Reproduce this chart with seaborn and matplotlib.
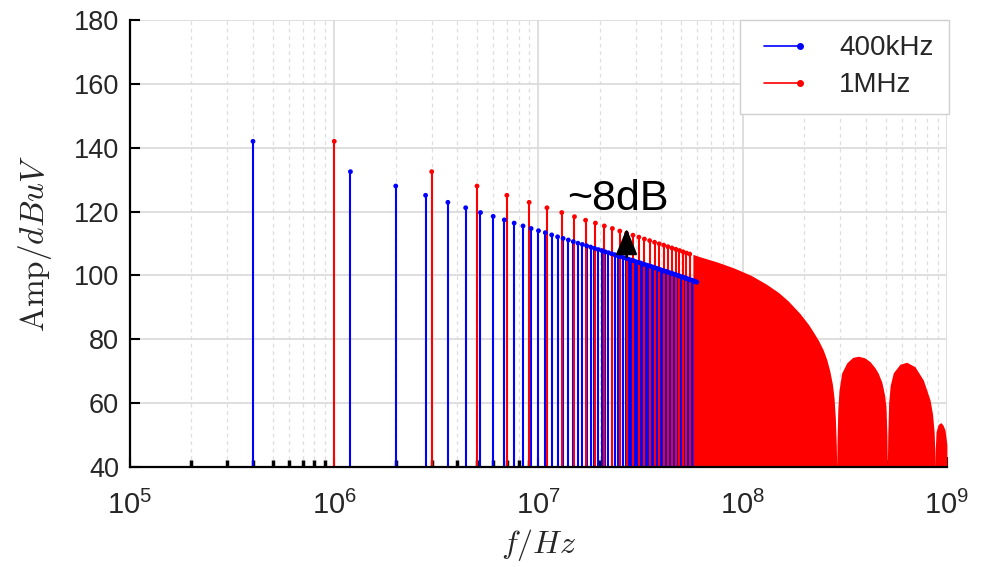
import numpy as np
import matplotlib
matplotlib.use("Agg")
import matplotlib.pyplot as plt
import seaborn as sns
from matplotlib.lines import Line2D
from matplotlib.legend_handler import HandlerLine2D
from matplotlib.ticker import FixedLocator

# ---------------- data ----------------
series_labels = ["400kHz", "1MHz"]
fund_hz = [400e3, 1e6]

# odd harmonic orders of the 400 kHz spectrum that are drawn as individual stems
blue_orders = list(range(1, 150, 2))
blue_amp = [142.0, 132.5, 128.0, 125.1, 122.9, 121.2, 119.7, 118.5, 117.4, 116.4,
            115.5, 114.7, 114.0, 113.4, 112.7, 112.1, 111.6, 111.1, 110.6, 110.1,
            109.7, 109.3, 108.9, 108.5, 108.1, 107.8, 107.4, 107.1, 106.8, 106.5,
            106.2, 105.9, 105.6, 105.4, 105.1, 104.8, 104.6, 104.3, 104.1, 103.9,
            103.6, 103.4, 103.2, 103.0, 102.8, 102.6, 102.4, 102.2, 102.0, 101.8,
            101.6, 101.4, 101.3, 101.1, 100.9, 100.7, 100.6, 100.4, 100.3, 100.1,
            99.9, 99.8, 99.6, 99.5, 99.3, 99.2, 99.0, 98.9, 98.7, 98.6,
            98.5, 98.3, 98.2, 98.0, 97.9]

# odd harmonic orders of the 1 MHz spectrum drawn as individual stems
red_orders = list(range(1, 56, 2))
red_amp = [142.0, 132.5, 128.0, 125.1, 122.9, 121.2, 119.7, 118.4, 117.3, 116.4,
           115.5, 114.7, 113.9, 113.2, 112.6, 112.0, 111.4, 110.9, 110.4, 109.9,
           109.5, 109.0, 108.6, 108.2, 107.8, 107.4, 107.0, 106.7]

# envelope of the dense (merged) 1 MHz stems, 57 MHz .. 1 GHz
red_env_mhz = [57, 62, 75, 90, 110, 131, 150, 167, 191, 210, 222, 235, 248, 258,
               267, 275, 280, 284, 287, 288.5,
               289.5, 292, 296, 305, 323, 345, 368, 395, 420, 445, 461, 480, 495,
               503, 508, 510.5,
               513, 518, 527, 546, 589, 635, 697, 766, 826, 850, 865, 872, 874,
               877, 884, 905, 932, 955, 978, 999]
red_env_amp = [106.6, 105.8, 104.2, 102.4, 100.0, 97.2, 94.6, 92.0, 88.0, 84.6,
               82.2, 79.6, 76.6, 73.6, 70.0, 65.8, 61.5, 55.5, 47.0, 40.0,
               48.0, 58.0, 64.0, 69.4, 72.6, 74.3, 74.7, 74.2, 73.0, 71.0,
               69.3, 66.5, 62.5, 58.5, 50.0, 40.0,
               50.0, 60.0, 65.5, 69.5, 72.2, 72.8, 71.4, 67.2, 61.0, 56.5,
               51.0, 45.0, 40.0,
               46.0, 51.0, 53.3, 53.9, 53.2, 51.6, 47.0]

x_ticks = [1e5, 1e6, 1e7, 1e8, 1e9]
x_ticklabels = [r"$\mathregular{10^{5}}$", r"$\mathregular{10^{6}}$",
                r"$\mathregular{10^{7}}$", r"$\mathregular{10^{8}}$",
                r"$\mathregular{10^{9}}$"]
y_ticks = [40, 60, 80, 100, 120, 140, 160, 180]

annot_text = "~8dB"
annot_f = 27e6
annot_lo, annot_hi = 105.8, 114.7

# ---------------- style ----------------
sns.set_theme(style="white")
plt.rcParams["font.family"] = ["Liberation Sans", "DejaVu Sans"]
plt.rcParams["mathtext.fontset"] = "cm"

BLUE = "#0000ff"
RED = "#ff0000"

fig = plt.figure(figsize=(9.94, 5.67), dpi=100)
ax = fig.add_axes([0.1308, 0.1764, 0.8219, 0.7883])

blue_f = np.array(blue_orders) * fund_hz[0]
red_f = np.array(red_orders) * fund_hz[1]
env_f = np.array(red_env_mhz) * 1e6

# stems
ax.vlines(blue_f, 40, blue_amp, color=BLUE, lw=1.5, zorder=2)
sns.scatterplot(x=blue_f, y=blue_amp, color=BLUE, s=12, marker="o",
                edgecolor="none", ax=ax, zorder=4, legend=False)
ax.vlines(red_f, 40, red_amp, color=RED, lw=1.5, zorder=3)
sns.scatterplot(x=red_f, y=red_amp, color=RED, s=12, marker="o",
                edgecolor="none", ax=ax, zorder=4, legend=False)
ax.fill_between(env_f, 40, red_env_amp, color=RED, lw=0, zorder=3)

ax.set_xscale("log")
ax.set_xlim(1e5, 1e9)
ax.set_ylim(40, 180)

# grid
ax.set_xticks(x_ticks, labels=x_ticklabels)
minor = [m * d for d in [1e5, 1e6, 1e7, 1e8] for m in range(2, 10)]
ax.xaxis.set_minor_locator(FixedLocator(minor))
ax.set_yticks(y_ticks)
ax.grid(True, which="major", color="#d9d9d9", lw=1.2, zorder=0)
ax.grid(True, which="minor", axis="x", color="#dedede", lw=0.9,
        linestyle=(0, (3, 3)), zorder=0)
ax.set_axisbelow(True)

for side in ["top", "right"]:
    ax.spines[side].set_visible(False)
for side in ["left", "bottom"]:
    ax.spines[side].set_color("black")
    ax.spines[side].set_linewidth(1.6)
    ax.spines[side].set_zorder(6)

ax.tick_params(axis="both", which="major", direction="in", length=7, width=1.5,
               color="black", labelcolor="#262626", labelsize=19.5,
               top=False, right=False, bottom=True, left=True)
ax.tick_params(axis="x", which="minor", direction="in", length=5, width=2.5,
               color="black", top=False, bottom=True)
ax.tick_params(axis="x", which="major", pad=17, labelsize=21)
ax.tick_params(axis="y", which="major", pad=8)

ax.set_ylabel(r"$\mathrm{Amp}/dBuV$", fontsize=24, color="#262626", labelpad=14)
ax.set_xlabel(r"$f/Hz$", fontsize=23, color="#262626", labelpad=5)

# annotation
ax.text(24.5e6, 120.4, annot_text, fontsize=31, color="black",
        ha="center", va="baseline", zorder=8)
ax.annotate("", xy=(annot_f, annot_hi), xytext=(annot_f, annot_lo),
            arrowprops=dict(arrowstyle="-|>,head_length=0.8,head_width=0.33",
                            color="black", lw=1.8, mutation_scale=20,
                            shrinkA=0, shrinkB=0),
            zorder=8)


class RightMarkerHandler(HandlerLine2D):
    def create_artists(self, legend, orig_handle, xdescent, ydescent, width,
                       height, fontsize, trans):
        arts = super().create_artists(legend, orig_handle, xdescent, ydescent,
                                      width, height, fontsize, trans)
        for a in arts:
            if isinstance(a, Line2D):
                n = len(a.get_xdata())
                a.set_markevery([n - 1])
        return arts


handles = [Line2D([], [], color=BLUE, lw=1.2, marker="o", ms=4),
           Line2D([], [], color=RED, lw=1.2, marker="o", ms=4)]
leg = ax.legend(handles, series_labels, loc="upper right",
                bbox_to_anchor=(1.002, 1.0), borderaxespad=0, fontsize=20,
                frameon=True, fancybox=False, framealpha=1, edgecolor="#d0d0d0",
                handlelength=1.9, handletextpad=1.1, labelspacing=0.4,
                borderpad=0.55, numpoints=2,
                handler_map={Line2D: RightMarkerHandler(numpoints=2)})
leg.get_frame().set_linewidth(1.0)
for t in leg.get_texts():
    t.set_color("#262626")
leg.set_zorder(9)

fig.savefig("out.png", dpi=100)
